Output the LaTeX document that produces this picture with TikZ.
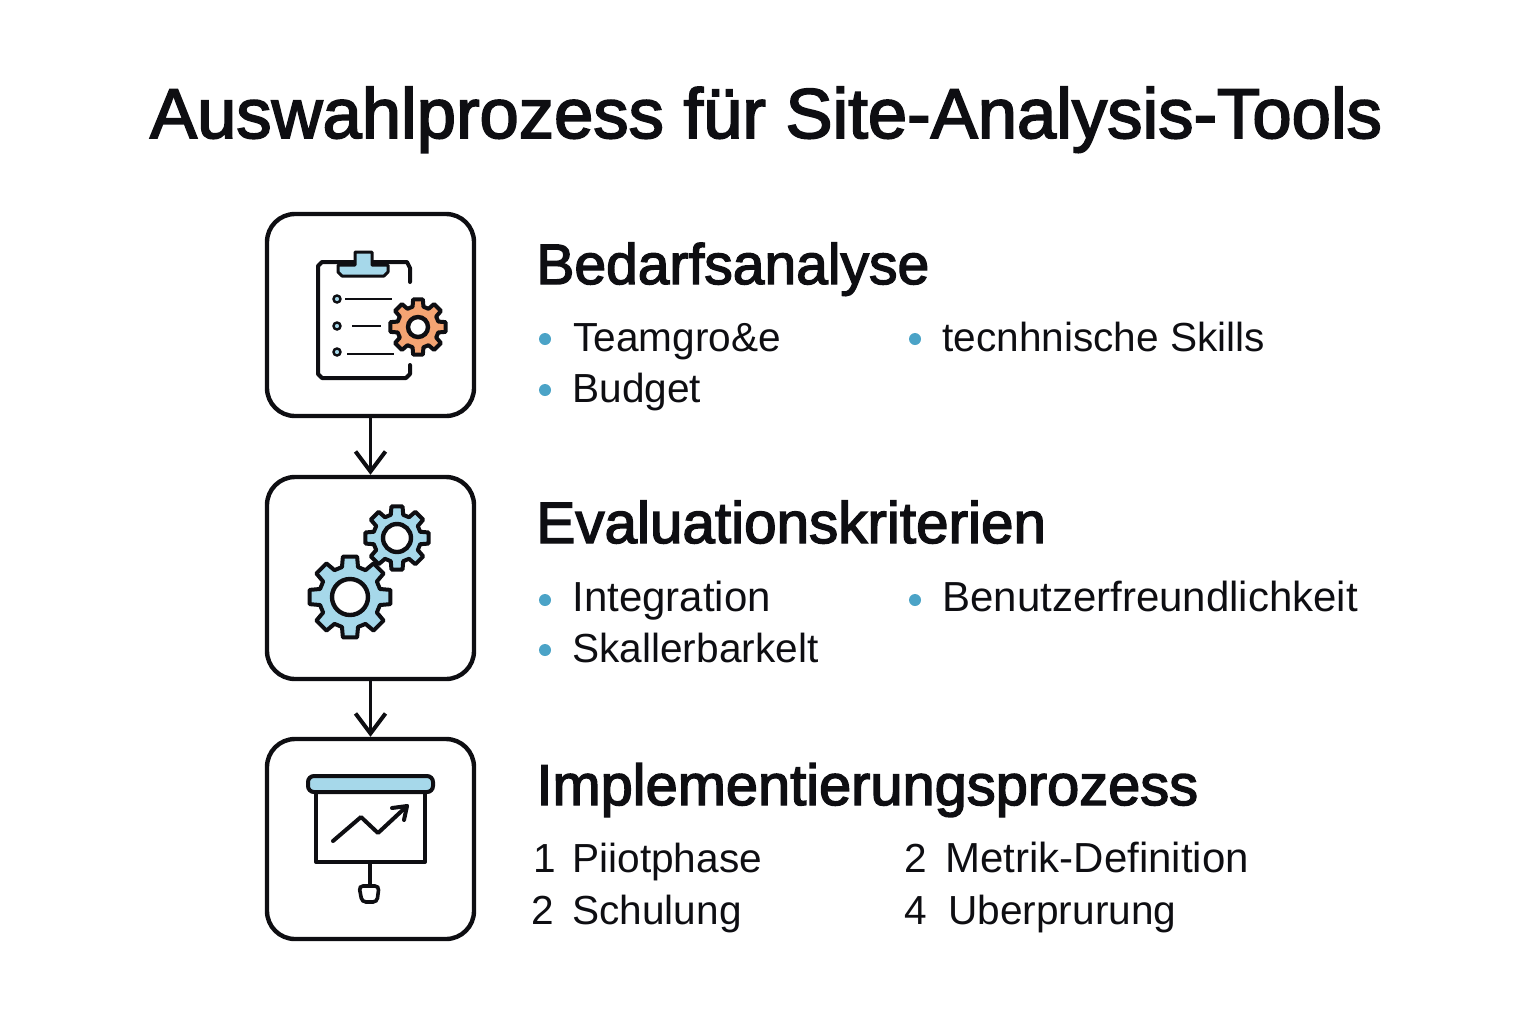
\documentclass[tikz,border=0pt]{standalone}
\usepackage{fontspec}
\setmainfont{Liberation Sans}
\newfontfamily\headfont{Liberation Sans}[FakeBold=2.5]
\usepackage{xcolor}
\usetikzlibrary{arrows.meta}
\definecolor{iconblue}{HTML}{A6D8EA}
\definecolor{iconorange}{HTML}{F4A473}
\definecolor{dotblue}{HTML}{4BA3C7}
\definecolor{inkdark}{HTML}{0E0E12}
\newcommand{\gearicon}[6]{
\begin{scope}[shift={(#1,#2)}]
\draw[fill=#6, line width=2pt, line join=round] (-15:#3) \foreach \a in {0,45,...,315} { -- (\a-15:#3) -- (\a-10:#4) -- (\a+10:#4) -- (\a+15:#3) } -- cycle;
\draw[fill=white, line width=2.2pt] (0,0) circle (#5);
\end{scope}
}
\begin{document}
\begin{tikzpicture}[x=.5pt, y=-.5pt, >={Straight Barb[length=10pt, width=15pt, line width=2pt]}, color=inkdark]
\useasboundingbox (0,0) rectangle (1536,1024);
\tikzstyle{every node} = [draw, line width=2.2pt, rounded corners=14pt, minimum width=103.5pt, minimum height=101pt, inner sep=0pt]
\node (1) at (370.5,315) {};
\node (2) at (370.5,578) {};
\node[minimum height=100pt] (3) at (370.5,839) {};
\tikzstyle{every node} = []
\draw[->, line width=1.8pt] (1) -- (2);
\draw[->, line width=1.8pt] (2) -- (3);
\tikzstyle{every node} = [anchor=base west, inner sep=0pt]
\node[anchor=base, font=\headfont\fontsize{35.3}{40}\selectfont] (title) at (766,138) {Auswahlprozess für Site-Analysis-Tools};
\tikzstyle{heading} = [font=\headfont\fontsize{28.5}{32}\selectfont]
\tikzstyle{item} = [font=\fontsize{20.3}{24}\selectfont]
\tikzstyle{itemwide} = [font=\fontsize{21}{24}\selectfont]
\tikzstyle{dot} = [circle, fill=dotblue, minimum size=6pt, anchor=center]
\node[heading] (h1) at (536,284) {Bedarfsanalyse};
\node[heading, font=\headfont\fontsize{29.2}{32}\selectfont] (h2) at (536,543) {Evaluationskriterien};
\node[heading, font=\headfont\fontsize{28.9}{32}\selectfont] (h3) at (536,805) {Implementierungsprozess};
\node[dot] (d1) at (545,339) {};
\node[dot] (d2) at (545,390) {};
\node[dot] (d3) at (915,339) {};
\node[item] (a1) at (573,351) {Teamgro\&e};
\node[item] (a2) at (572,402) {Budget};
\node[item] (a3) at (942,351) {tecnhnische Skills};
\node[dot] (d4) at (545,600) {};
\node[dot] (d5) at (545,650) {};
\node[dot] (d6) at (915,600) {};
\node[itemwide] (b1) at (572,611) {Integration};
\node[item] (b2) at (572,662) {Skallerbarkelt};
\node[itemwide] (b3) at (942,611) {Benutzerfreundlichkeit};
\node[item] (n1) at (533,872) {1};
\node[item] (n2) at (531,924) {2};
\node[item] (n3) at (904,872) {2};
\node[item] (n4) at (904,924) {4};
\node[item] (c1) at (572,872) {Piiotphase};
\node[item] (c2) at (572,924) {Schulung};
\node[itemwide] (c3) at (945,872) {Metrik-Definition};
\node[item] (c4) at (948,924) {Uberprurung};
\tikzstyle{every node} = []
\draw[line width=2pt, line cap=round, line join=round] (410,282) -- (410,268) -- (407,262) -- (322,262) -- (318,266) -- (318,374) -- (322,378) -- (406,378) -- (410,374) -- (410,365);
\draw[fill=iconblue, line width=1.5pt, line join=round] (338,265) -- (355,265) -- (355,252) -- (372,252) -- (372,265) -- (388,265) -- (388,272) -- (384,276) -- (342,276) -- (338,272) -- cycle;
\draw[fill=iconblue, line width=1.2pt] (337,299) circle (3.5);
\draw[fill=iconblue, line width=1.2pt] (337,326) circle (3.5);
\draw[fill=iconblue, line width=1.2pt] (337,352) circle (3.5);
\draw[line width=1.2pt] (345,299) -- (392,299);
\draw[line width=1.2pt] (352,326) -- (381,326);
\draw[line width=1.2pt] (347,354) -- (394,354);
\gearicon{418}{327}{21}{28}{10}{iconorange}
\gearicon{350}{597}{31}{41}{18}{iconblue}
\gearicon{397}{538}{24}{32}{14}{iconblue}
\draw[fill=iconblue, line width=2pt, rounded corners=3pt] (308,776) rectangle (433,792);
\draw[line width=2pt, line join=round] (316,792) rectangle (425,862);
\coordinate (p1) at (333,841);
\coordinate (p2) at (361,817);
\coordinate (p3) at (378,833);
\coordinate (p4) at (407,806);
\draw[line width=2pt, line cap=round, line join=round] (p1) -- (p2) -- (p3) -- (p4);
\draw[line width=2pt, line cap=round, line join=round] (392,808) -- (407,806) -- (404,820);
\draw[line width=1.8pt] (370,862) -- (370,885);
\draw[line width=1.8pt, rounded corners=2pt, fill=white] (359,886) -- (379,886) -- (377,902) -- (362,902) -- cycle;
\end{tikzpicture}
\end{document}
